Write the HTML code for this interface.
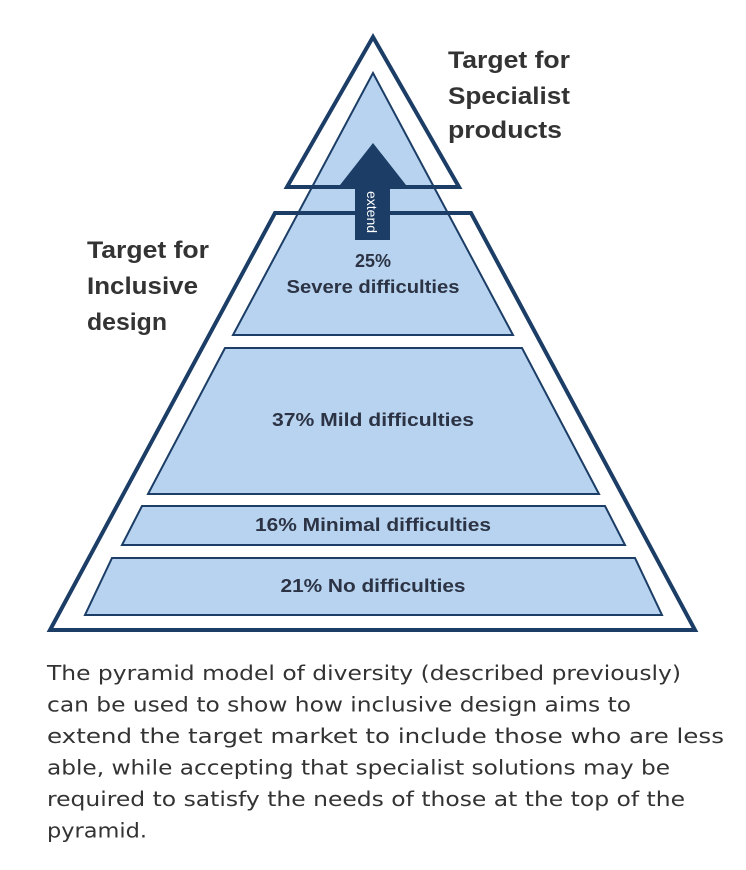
<!DOCTYPE html>
<html><head><meta charset="utf-8"><style>
html,body{margin:0;padding:0;background:#fff;}
body{width:746px;height:870px;position:relative;overflow:hidden;}
svg{position:absolute;left:0;top:0;}
</style></head><body>
<svg width="746" height="870" font-family="Liberation Sans, sans-serif">
  <polygon points="373,73 513,335 233,335" fill="#b8d3ef" stroke="#1b3d66" stroke-width="2"/>
  <polygon points="225,348 522,348 599,494 148,494" fill="#b8d3ef" stroke="#1b3d66" stroke-width="2"/>
  <polygon points="142,506 605,506 625,545 122,545" fill="#b8d3ef" stroke="#1b3d66" stroke-width="2"/>
  <polygon points="112,558 635,558 662,615 85,615" fill="#b8d3ef" stroke="#1b3d66" stroke-width="2"/>
  <polygon points="373,37 459,187 287,187" fill="none" stroke="#1b3d66" stroke-width="4" stroke-linejoin="miter"/>
  <polygon points="275,213 471,213 695,630 50,630" fill="none" stroke="#1b3d66" stroke-width="4"/>
  <polygon points="373,143 406,185 390,185 390,240 355,240 355,185 340,185" fill="#1b3d66"/>
  <text transform="translate(367,212) rotate(90)" text-anchor="middle" fill="#fff" font-size="14">extend</text>
  <g fill="#2b3344" font-weight="bold" font-size="18" text-anchor="middle">
    <text x="373" y="267" textLength="36" lengthAdjust="spacingAndGlyphs">25%</text>
    <text x="373" y="293" textLength="173" lengthAdjust="spacingAndGlyphs">Severe difficulties</text>
    <text x="373" y="426" textLength="202" lengthAdjust="spacingAndGlyphs">37% Mild difficulties</text>
    <text x="373" y="531" textLength="236" lengthAdjust="spacingAndGlyphs">16% Minimal difficulties</text>
    <text x="373" y="592" textLength="185" lengthAdjust="spacingAndGlyphs">21% No difficulties</text>
  </g>
  <g fill="#333" font-weight="bold" font-size="24">
    <text x="448" y="68" textLength="122" lengthAdjust="spacingAndGlyphs">Target for</text>
    <text x="448" y="104" textLength="122" lengthAdjust="spacingAndGlyphs">Specialist</text>
    <text x="448" y="138" textLength="114" lengthAdjust="spacingAndGlyphs">products</text>
    <text x="87" y="258" textLength="122" lengthAdjust="spacingAndGlyphs">Target for</text>
    <text x="87" y="294" textLength="111" lengthAdjust="spacingAndGlyphs">Inclusive</text>
    <text x="87" y="330" textLength="80" lengthAdjust="spacingAndGlyphs">design</text>
  </g>
  <g fill="#333" font-family="DejaVu Sans, sans-serif" font-size="20.5">
    <text x="47" y="680" textLength="634" lengthAdjust="spacingAndGlyphs">The pyramid model of diversity (described previously)</text>
    <text x="47" y="711.5" textLength="584" lengthAdjust="spacingAndGlyphs">can be used to show how inclusive design aims to</text>
    <text x="47" y="743" textLength="677" lengthAdjust="spacingAndGlyphs">extend the target market to include those who are less</text>
    <text x="47" y="774.5" textLength="623" lengthAdjust="spacingAndGlyphs">able, while accepting that specialist solutions may be</text>
    <text x="47" y="806" textLength="638" lengthAdjust="spacingAndGlyphs">required to satisfy the needs of those at the top of the</text>
    <text x="47" y="837.5" textLength="100" lengthAdjust="spacingAndGlyphs">pyramid.</text>
  </g>
</svg>
</body></html>
